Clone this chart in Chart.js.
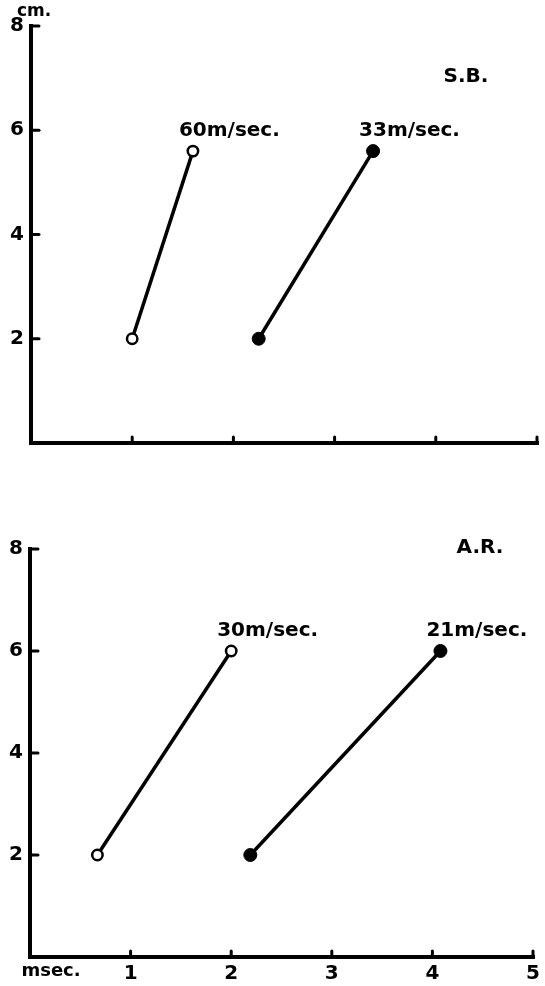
<!DOCTYPE html>
<html><head><meta charset="utf-8">
<script src="https://cdn.jsdelivr.net/npm/chart.js@4/dist/chart.umd.min.js"></script>
<style>
html,body{margin:0;padding:0;background:#fff;}
#wrap{position:relative;width:545px;height:986px;overflow:hidden;}
canvas{position:absolute;left:0;}
</style></head><body>
<div id="wrap">
<canvas id="c1" width="545" height="470" style="top:0px"></canvas>
<canvas id="c2" width="545" height="506" style="top:480px"></canvas>
</div>
<script>
// ---- data ----
const xTickValues = [1, 2, 3, 4, 5];
const yTickValues = [2, 4, 6, 8];
const sbOpenX = [1.0, 1.6];
const sbOpenY = [2, 5.6];
const sbFilledX = [2.25, 3.38];
const sbFilledY = [2, 5.6];
const arOpenX = [0.67, 2.0];
const arOpenY = [2, 6];
const arFilledX = [2.19, 4.08];
const arFilledY = [2, 6];
const sbSpeedLabels = ['60m/sec.', '33m/sec.'];
const arSpeedLabels = ['30m/sec.', '21m/sec.'];
const panelTitles = ['S.B.', 'A.R.'];
const yUnit = 'cm.';
const xUnit = 'msec.';

const FONT = "'DejaVu Sans', sans-serif";
const pts = (xs, ys) => xs.map((x, i) => ({x: x, y: ys[i]}));

function ds(data, filled) {
  return {
    data: data,
    borderColor: '#000',
    borderWidth: 3.5,
    showLine: true,
    pointRadius: filled ? 6.5 : 5.2,
    pointBorderWidth: filled ? 1 : 2.5,
    pointBackgroundColor: filled ? '#000' : '#fff',
    pointBorderColor: '#000',
    pointHoverRadius: 6
  };
}

const decor = {
  id: 'decor',
  afterDatasetsDraw(chart, args, opts) {
    const ctx = chart.ctx;
    const xs = chart.scales.x, ys = chart.scales.y;
    const ca = chart.chartArea;
    ctx.save();
    ctx.strokeStyle = '#000';
    ctx.lineWidth = 3;
    ctx.lineCap = 'round';
    // inward tick nubs
    yTickValues.forEach(v => {
      const py = ys.getPixelForValue(v);
      ctx.beginPath(); ctx.moveTo(ca.left, py); ctx.lineTo(ca.left + 8, py); ctx.stroke();
    });
    xTickValues.forEach(v => {
      const px = xs.getPixelForValue(v);
      ctx.beginPath(); ctx.moveTo(px, ca.bottom); ctx.lineTo(px, ca.bottom - 6); ctx.stroke();
    });
    // speed labels
    ctx.fillStyle = '#000';
    ctx.font = 'bold 20px ' + FONT;
    ctx.textAlign = 'left';
    ctx.textBaseline = 'middle';
    opts.speeds.forEach((lab, i) => {
      const meta = chart.getDatasetMeta(i);
      const p = meta.data[meta.data.length - 1];
      ctx.fillText(lab, p.x - 14, p.y - 20);
    });
    // panel title
    ctx.font = 'bold 20px ' + FONT;
    ctx.textAlign = 'center';
    ctx.fillText(opts.title, opts.titleX, opts.titleY);
    if (opts.yUnit) {
      ctx.font = 'bold 17px ' + FONT;
      ctx.textAlign = 'left';
      ctx.fillText(opts.yUnit, 17, 12);
    }
    if (opts.xUnit) {
      ctx.font = 'bold 18px ' + FONT;
      ctx.textAlign = 'center';
      ctx.fillText(opts.xUnit, xs.getPixelForValue(0) + 21, ca.bottom + 14);
    }
    ctx.restore();
  }
};

function makeChart(id, datasets, cfg) {
  return new Chart(document.getElementById(id), {
    type: 'scatter',
    data: {datasets: datasets},
    plugins: [decor],
    options: {
      responsive: false,
      animation: false,
      devicePixelRatio: 1,
      layout: {autoPadding: false, padding: cfg.padding},
      plugins: {
        legend: {display: false},
        tooltip: {enabled: false},
        decor: cfg.decor
      },
      scales: {
        x: {
          type: 'linear', min: 0, max: 5,
          afterFit: s => { s.height = cfg.xHeight; },
          grid: {drawOnChartArea: false, drawTicks: false, lineWidth: 4, color: '#000'},
          border: {display: true, width: 4, color: '#000'},
          ticks: {
            display: cfg.showX, stepSize: 1, padding: 5, color: '#000',
            font: {family: FONT, weight: 'bold', size: 20},
            callback: v => (xTickValues.includes(v) ? String(v) : '')
          }
        },
        y: {
          type: 'linear', min: 0, max: 8,
          afterFit: s => { s.width = cfg.yWidth; },
          grid: {drawOnChartArea: false, drawTicks: false, lineWidth: 4, color: '#000'},
          border: {display: true, width: 4, color: '#000'},
          ticks: {
            stepSize: 2, padding: 7, color: '#000',
            font: {family: FONT, weight: 'bold', size: 20},
            callback: v => (yTickValues.includes(v) ? String(v) : '')
          }
        }
      }
    }
  });
}

makeChart('c1', [ds(pts(sbOpenX, sbOpenY), false), ds(pts(sbFilledX, sbFilledY), true)], {
  padding: {top: 26, right: 8, left: 0, bottom: 0},
  xHeight: 27, yWidth: 31, showX: false,
  decor: {speeds: sbSpeedLabels, title: panelTitles[0], titleX: 466, titleY: 77, yUnit: yUnit}
});

makeChart('c2', [ds(pts(arOpenX, arOpenY), false), ds(pts(arFilledX, arFilledY), true)], {
  padding: {top: 69, right: 12, left: 0, bottom: 0},
  xHeight: 29, yWidth: 30, showX: true,
  decor: {speeds: arSpeedLabels, title: panelTitles[1], titleX: 480, titleY: 68, xUnit: xUnit}
});
</script>
</body></html>
